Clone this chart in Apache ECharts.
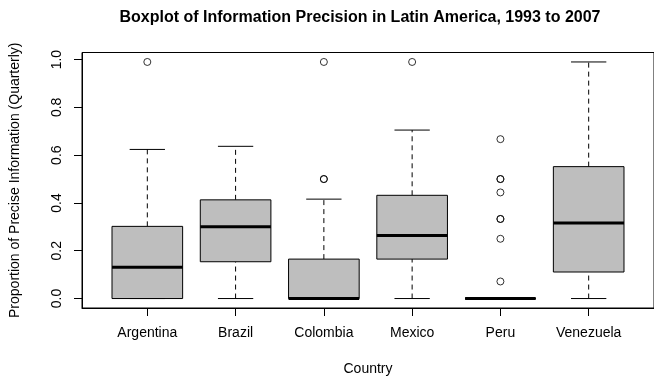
<!DOCTYPE html>
<html>
<head>
<meta charset="utf-8">
<script src="https://cdn.jsdelivr.net/npm/echarts@6/dist/echarts.min.js"></script>
<style>
  html, body { margin: 0; padding: 0; background: #fff; }
  #chart { width: 654px; height: 381px; }
</style>
</head>
<body>
<div id="chart"></div>
<script>
// Countries along the x axis
const countries = ['Argentina', 'Brazil', 'Colombia', 'Mexico', 'Peru', 'Venezuela'];

// Five-number summaries per country: lower whisker, Q1, median, Q3, upper whisker
const lowerWhisker = [0.000, 0.000, 0.000, 0.000, 0.000, 0.000];
const q1Values     = [0.000, 0.154, 0.000, 0.165, 0.000, 0.111];
const medians      = [0.131, 0.300, 0.000, 0.264, 0.000, 0.316];
const q3Values     = [0.302, 0.413, 0.165, 0.432, 0.000, 0.552];
const upperWhisker = [0.624, 0.637, 0.416, 0.705, 0.000, 0.990];

// Outlying observations per country
const outliers = [
  [0.990],
  [],
  [0.500, 0.500, 0.990],
  [0.990],
  [0.0714, 0.250, 0.333, 0.333, 0.444, 0.500, 0.500, 0.667],
  []
];

// Y tick values
const yTicks = [0, 0.2, 0.4, 0.6, 0.8, 1.0];
const xTicks = countries.map((_, i) => i + 1);

const boxData = countries.map((_, i) => [i + 1, lowerWhisker[i], q1Values[i], medians[i], q3Values[i], upperWhisker[i]]);
const outlierData = [];
outliers.forEach((list, i) => list.forEach(v => outlierData.push([i + 1, v])));

const FONT = '"Liberation Sans", Arial, Helvetica, sans-serif';

function renderBox(params, api) {
  const x = api.value(0);
  const low = api.coord([x, api.value(1)]);
  const q1 = api.coord([x, api.value(2)]);
  const med = api.coord([x, api.value(3)]);
  const q3 = api.coord([x, api.value(4)]);
  const high = api.coord([x, api.value(5)]);
  const unit = api.size([1, 0])[0];
  const halfBox = unit * 0.4;
  const halfCap = unit * 0.2;
  const cx = low[0];
  const dashed = { stroke: '#000', lineWidth: 1, lineDash: [5, 4], fill: null };
  const solid = { stroke: '#000', lineWidth: 1, fill: null };
  return {
    type: 'group',
    children: [
      { type: 'line', shape: { x1: cx, y1: q3[1], x2: cx, y2: high[1] }, style: dashed },
      { type: 'line', shape: { x1: cx, y1: low[1], x2: cx, y2: q1[1] }, style: dashed },
      { type: 'line', shape: { x1: cx - halfCap, y1: high[1], x2: cx + halfCap, y2: high[1] }, style: solid },
      { type: 'line', shape: { x1: cx - halfCap, y1: low[1], x2: cx + halfCap, y2: low[1] }, style: solid },
      { type: 'rect', shape: { x: cx - halfBox, y: q3[1], width: halfBox * 2, height: q1[1] - q3[1] },
        style: { fill: '#bebebe', stroke: '#000', lineWidth: 1 } },
      { type: 'line', shape: { x1: cx - halfBox, y1: med[1], x2: cx + halfBox, y2: med[1] },
        style: { stroke: '#000', lineWidth: 3 } }
    ]
  };
}

const chart = echarts.init(document.getElementById('chart'), null, { renderer: 'canvas' });
chart.setOption({
  animation: false,
  backgroundColor: '#fff',
  graphic: [{
    type: 'text',
    x: 360, y: 18,
    style: {
      text: 'Boxplot of Information Precision in Latin America, 1993 to 2007',
      font: 'bold 16px ' + FONT,
      fill: '#000',
      textAlign: 'center',
      textVerticalAlign: 'middle'
    }
  }],
  grid: {
    left: 82, top: 52.5, width: 583, height: 256,
    show: true, borderColor: '#000', borderWidth: 1, backgroundColor: 'transparent'
  },
  xAxis: {
    type: 'value', min: 0.26, max: 6.74,
    name: 'Country', nameLocation: 'middle', nameGap: 54,
    nameTextStyle: { fontFamily: FONT, fontSize: 14, color: '#000' },
    axisLine: { show: true, onZero: false, lineStyle: { color: '#000', width: 1 } },
    axisTick: { show: true, length: 8, customValues: xTicks, lineStyle: { color: '#000' } },
    axisLabel: {
      customValues: xTicks, margin: 18,
      fontFamily: FONT, fontSize: 14, color: '#000',
      formatter: v => countries[Math.round(v) - 1] || ''
    },
    splitLine: { show: false }
  },
  yAxis: {
    type: 'value', min: -0.0396, max: 1.0296,
    name: 'Proportion of Precise Information (Quarterly)', nameLocation: 'middle', nameGap: 60, nameRotate: 90,
    nameTextStyle: { fontFamily: FONT, fontSize: 14, color: '#000' },
    axisLine: { show: true, onZero: false, lineStyle: { color: '#000', width: 1 } },
    axisTick: { show: true, length: 8, customValues: yTicks, lineStyle: { color: '#000' } },
    axisLabel: {
      customValues: yTicks, margin: 18, rotate: 90,
      fontFamily: FONT, fontSize: 14, color: '#000',
      formatter: v => v.toFixed(1)
    },
    splitLine: { show: false }
  },
  series: [
    {
      type: 'custom',
      renderItem: renderBox,
      encode: { x: 0, y: [1, 2, 3, 4, 5] },
      data: boxData,
      clip: false
    },
    {
      type: 'scatter',
      symbol: 'circle',
      symbolSize: 7,
      itemStyle: { color: 'rgba(0,0,0,0)', borderColor: '#000', borderWidth: 1 },
      data: outlierData
    }
  ]
});
</script>
</body>
</html>
